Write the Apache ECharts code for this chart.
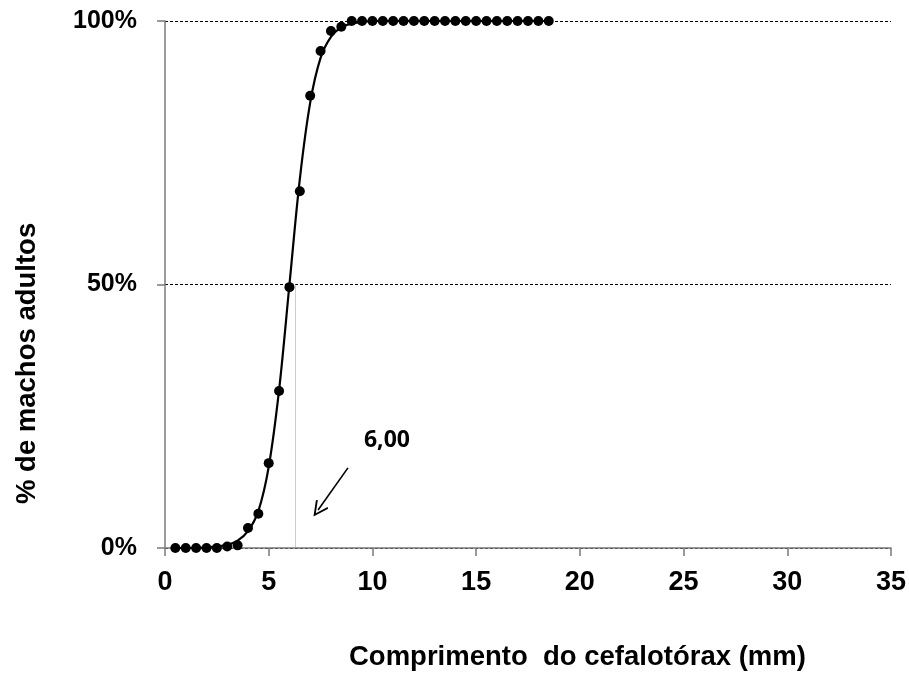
<!DOCTYPE html>
<html>
<head>
<meta charset="utf-8">
<script src="https://cdn.jsdelivr.net/npm/echarts@6/dist/echarts.min.js"></script>
<style>
  html, body { margin: 0; padding: 0; background: #fff; }
  #chart { width: 909px; height: 677px; }
</style>
</head>
<body>
<div id="chart"></div>
<script>
// comprimento do cefalotorax (mm) e % de machos adultos observados
const lengthMm = [0.5, 1, 1.5, 2, 2.5, 3, 3.5, 4, 4.5, 5, 5.5, 6, 6.5, 7, 7.5, 8, 8.5,
  9, 9.5, 10, 10.5, 11, 11.5, 12, 12.5, 13, 13.5, 14, 14.5, 15, 15.5, 16, 16.5, 17, 17.5, 18, 18.5];
const pctAdult = [0, 0, 0, 0, 0, 0.3, 0.5, 3.8, 6.5, 16.1, 29.8, 49.5, 67.7, 85.8, 94.3, 98.1, 98.9,
  100, 100, 100, 100, 100, 100, 100, 100, 100, 100, 100, 100, 100, 100, 100, 100, 100, 100, 100, 100];

// curva ajustada
const curveX = [0.5, 1.5, 2.5, 3, 3.5, 4, 4.5, 5, 5.5, 6, 6.5, 7, 7.5, 8, 8.5, 9, 9.5, 10, 11, 18.5];
const curveY = [0, 0, 0.3, 0.6, 1.4, 3.2, 7, 15.4, 30, 50, 70, 84.5, 93, 97, 98.8, 99.5, 99.8, 100, 100, 100];

// L50
const l50Line = 6.3;
const l50Label = '6,00';

const xTicks = { min: 0, max: 35, interval: 5 };
const yTicks = { min: 0, max: 100, interval: 50 };

const chart = echarts.init(document.getElementById('chart'));

const option = {
  animation: false,
  backgroundColor: '#fff',
  grid: { left: 165, right: 18, top: 21, bottom: 129, containLabel: false },
  xAxis: {
    type: 'value',
    min: xTicks.min,
    max: xTicks.max,
    interval: xTicks.interval,
    axisLine: { show: true, onZero: false, lineStyle: { color: '#7a7a7a', width: 1.5 } },
    axisTick: { show: true, length: 8, lineStyle: { color: '#7a7a7a', width: 1.5 } },
    axisLabel: {
      margin: 21,
      color: '#000',
      fontFamily: 'Arial, "Liberation Sans", sans-serif',
      fontWeight: 'bold',
      fontSize: 27
    },
    splitLine: { show: false }
  },
  yAxis: {
    type: 'value',
    min: yTicks.min,
    max: yTicks.max,
    interval: yTicks.interval,
    axisLine: { show: true, lineStyle: { color: '#7a7a7a', width: 1.5 } },
    axisTick: { show: true, length: 8, lineStyle: { color: '#7a7a7a', width: 1.5 } },
    axisLabel: {
      margin: 28,
      color: '#000',
      fontFamily: 'Arial, "Liberation Sans", sans-serif',
      fontWeight: 'bold',
      fontSize: 25,
      formatter: '{value}%'
    },
    splitLine: {
      show: true,
      lineStyle: { color: '#000', width: 1, type: [3, 2] }
    }
  },
  graphic: [
    {
      type: 'text',
      left: 349,
      top: 643,
      style: {
        text: 'Comprimento  do cefalotórax (mm)',
        fill: '#000',
        font: 'bold 27.5px Arial, "Liberation Sans", sans-serif'
      }
    },
    {
      type: 'text',
      x: 13,
      y: 504,
      rotation: Math.PI / 2,
      style: {
        text: '% de machos adultos',
        fill: '#000',
        font: 'bold 27.5px Arial, "Liberation Sans", sans-serif',
        verticalAlign: 'top'
      }
    }
  ],
  series: [
    {
      name: 'curva',
      type: 'line',
      data: curveX.map((x, i) => [x, curveY[i]]),
      smooth: 0.35,
      showSymbol: false,
      symbol: 'none',
      lineStyle: { color: '#000', width: 2.2 },
      z: 3,
      markLine: {
        silent: true,
        symbol: 'none',
        animation: false,
        label: { show: false },
        data: [
          [
            { coord: [l50Line, 50], lineStyle: { color: '#9a9a9a', width: 1, type: [1, 1] } },
            { coord: [l50Line, 0] }
          ]
        ]
      }
    },
    {
      name: 'seta',
      type: 'line',
      data: [],
      markLine: {
        silent: true,
        animation: false,
        symbol: ['none', 'path://M0,0 L-7,13 L-5.6,14 L0,3.6 L5.6,14 L7,13 Z'],
        symbolSize: [15, 16],
        label: { show: false },
        lineStyle: { color: '#000', width: 1.6, type: 'solid' },
        data: [[{ coord: [8.82, 15.2] }, { coord: [7.38, 7.2] }]]
      },
      markPoint: {
        silent: true,
        symbol: 'circle',
        symbolSize: 0,
        label: {
          show: true,
          formatter: l50Label,
          color: '#000',
          fontFamily: '"Open Sans", sans-serif',
          fontWeight: 'bold',
          fontSize: 23
        },
        data: [{ coord: [10.7, 20.5] }]
      }
    },
    {
      name: 'observado',
      type: 'scatter',
      data: lengthMm.map((x, i) => [x, pctAdult[i]]),
      symbol: 'circle',
      symbolSize: 10,
      itemStyle: { color: '#000', opacity: 1 },
      clip: false,
      z: 4
    }
  ]
};

chart.setOption(option);
</script>
</body>
</html>
